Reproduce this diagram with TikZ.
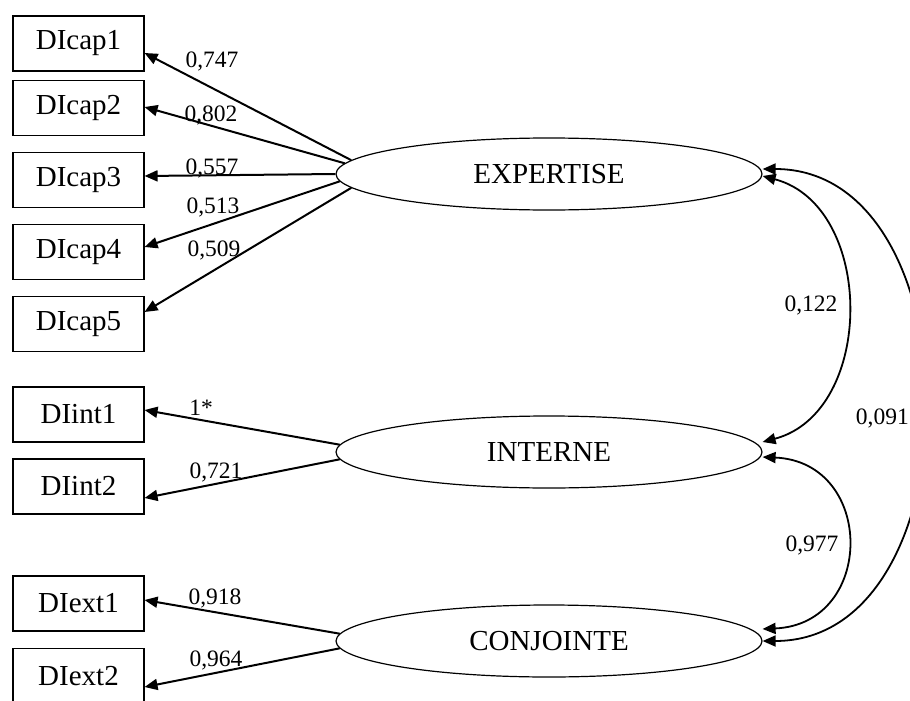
\documentclass[tikz,border=0pt]{standalone}
\usepackage{fontspec}
\setmainfont{Liberation Serif}
\usetikzlibrary{arrows.meta,shapes.geometric}
\begin{document}
\begin{tikzpicture}[x=1pt,y=-1pt,
  obs/.style={draw, line width=1.1pt, minimum width=131pt, minimum height=55pt, inner sep=0pt, font=\fontsize{29}{31}\selectfont},
  lat/.style={draw, ellipse, line width=1.2pt, minimum width=426pt, minimum height=72pt, inner sep=0pt, font=\fontsize{29}{31}\selectfont},
  load/.style={line width=2pt, -{Triangle[length=13pt,width=11pt]}},
  cov/.style={line width=1.8pt, {Triangle[length=13pt,width=11pt]}-{Triangle[length=13pt,width=11pt]}},
  lbl/.style={inner sep=0pt, font=\fontsize{23.5}{25}\selectfont}]
\clip (0,0) rectangle (910,701);
\fill[white] (0,0) rectangle (910,701);

% observed variables
\node[obs] (c1) at (78.5,43.5) {DIcap1};
\node[obs] (c2) at (78.5,108) {DIcap2};
\node[obs] (c3) at (78.5,180) {DIcap3};
\node[obs] (c4) at (78.5,252) {DIcap4};
\node[obs] (c5) at (78.5,324) {DIcap5};
\node[obs] (i1) at (78.5,414.5) {DIint1};
\node[obs] (i2) at (78.5,486.5) {DIint2};
\node[obs] (x1) at (78.5,603.5) {DIext1};
\node[obs] (x2) at (78.5,676) {DIext2};

% latent variables
\node[lat] (E) at (549,174) {EXPERTISE};
\node[lat] (I) at (549,452) {INTERNE};
\node[lat] (C) at (549,641) {CONJOINTE};

% loadings
\draw[load] (E.176) -- ([yshift=-9.5pt]c1.east);
\draw[load] (E.177) -- ([yshift=1pt]c2.east);
\draw[load] (E.west) -- ([yshift=4pt]c3.east);
\draw[load] (E.182) -- ([yshift=5pt]c4.east);
\draw[load] (E.184) -- ([yshift=12pt]c5.east);
\draw[load] (I.178) -- ([yshift=4.5pt]i1.east);
\draw[load] (I.182) -- ([yshift=-11.5pt]i2.east);
\draw[load] (C.178) -- ([yshift=3.5pt]x1.east);
\draw[load] (C.182) -- ([yshift=-11pt]x2.east);

% covariances
\draw[cov] ([yshift=-2pt]E.east) .. controls +(113,30) and +(113,-30) .. ([yshift=10pt]I.east);
\draw[cov] ([yshift=-5pt]I.east) .. controls +(113,5) and +(113,-5) .. ([yshift=12pt]C.east);
\draw[cov] ([yshift=5pt]E.east) .. controls +(215,0) and +(215,0) .. (C.east);

% labels
\node[lbl] (l1) at (212,61) {0,747};
\node[lbl] (l2) at (211,115) {0,802};
\node[lbl] (l3) at (212,168) {0,557};
\node[lbl] (l4) at (213,207) {0,513};
\node[lbl] (l5) at (214,250) {0,509};
\node[lbl] (l6) at (201,408) {1*};
\node[lbl] (l7) at (216,472) {0,721};
\node[lbl] (l8) at (215,598) {0,918};
\node[lbl] (l9) at (216,660) {0,964};
\node[lbl] (l10) at (811,305) {0,122};
\node[lbl] (l11) at (812,545) {0,977};
\node[lbl, anchor=east] (l12) at (909,418) {0,091};
\end{tikzpicture}
\end{document}
